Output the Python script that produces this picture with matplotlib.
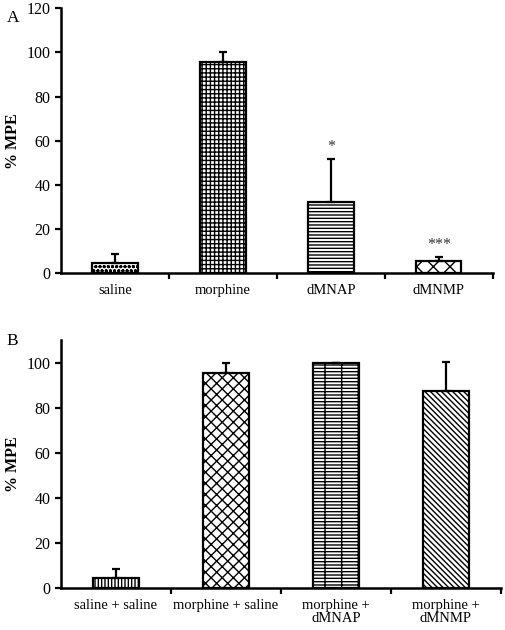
import numpy as np
import matplotlib.pyplot as plt

plt.rcParams.update({
    "font.family": "Liberation Serif",
    "font.size": 10.5,
    "hatch.linewidth": 1.0,
})

labels_a = ["saline", "morphine", "dMNAP", "dMNMP"]
mpe_a = [4.5, 95.5, 32.0, 5.4]
err_a = [4.1, 4.5, 19.6, 1.8]
stars_a = ["", "", "*", "***"]
hatch_a = ["oooo", "++++", "-----", "xx"]

labels_b = ["saline + saline", "morphine + saline", "morphine +\ndMNAP", "morphine +\ndMNMP"]
mpe_b = [4.3, 95.5, 100.0, 87.5]
err_b = [4.0, 4.5, 0.0, 12.8]
hatch_b = ["|||||", "xxx", "----+", "\\\\\\\\\\\\"]


def panel(ax, labels, vals, errs, hatches, ymax, yticks, letter, stars=None):
    x = np.arange(len(labels))
    for xi, v, h in zip(x, vals, hatches):
        ax.bar(xi, v, 0.42, color="white", edgecolor="black", hatch=h, linewidth=1.6, zorder=2)
    ax.errorbar(x, vals, yerr=[np.zeros(len(vals)), errs], fmt="none", ecolor="black",
                elinewidth=1.6, capsize=3, capthick=1.6, zorder=3)
    if stars:
        for xi, v, e, s in zip(x, vals, errs, stars):
            if s:
                ax.text(xi, v + e + 2.0, s, ha="center", va="bottom", fontsize=11.5, color="#333333")
    ax.set_xlim(-0.5, len(labels) - 0.5)
    ax.set_ylim(0, ymax)
    ax.set_yticks(yticks)
    ax.set_xticks(x)
    ax.set_xticklabels(labels, linespacing=1.0)
    ax.set_xticks(np.arange(len(labels)) + 0.5, minor=True)
    ax.tick_params(axis="x", which="major", length=0, pad=8)
    ax.tick_params(axis="x", which="minor", length=4, width=1.6, direction="out")
    ax.tick_params(axis="y", length=4, width=1.6, direction="out", labelsize=11.5)
    for side in ["top", "right"]:
        ax.spines[side].set_visible(False)
    for side in ["left", "bottom"]:
        ax.spines[side].set_linewidth(1.8)
    ax.set_ylabel("% MPE", fontweight="bold", fontsize=11.5)
    return ax.text(-0.125, 0.95, letter, transform=ax.transAxes, fontsize=12.5)


fig = plt.figure(figsize=(5.05, 6.3), dpi=100)
ax_a = fig.add_axes([0.1208, 0.5667, 0.855, 0.42])
ax_b = fig.add_axes([0.1208, 0.0667, 0.871, 0.3936])

panel(ax_a, labels_a, mpe_a, err_a, hatch_a, 120, np.arange(0, 121, 20), "A", stars_a)
t = panel(ax_b, labels_b, mpe_b, err_b, hatch_b, 110, np.arange(0, 101, 20), "B")
t.set_position((-0.125, 0.98))

fig.savefig("out.png", dpi=100)
